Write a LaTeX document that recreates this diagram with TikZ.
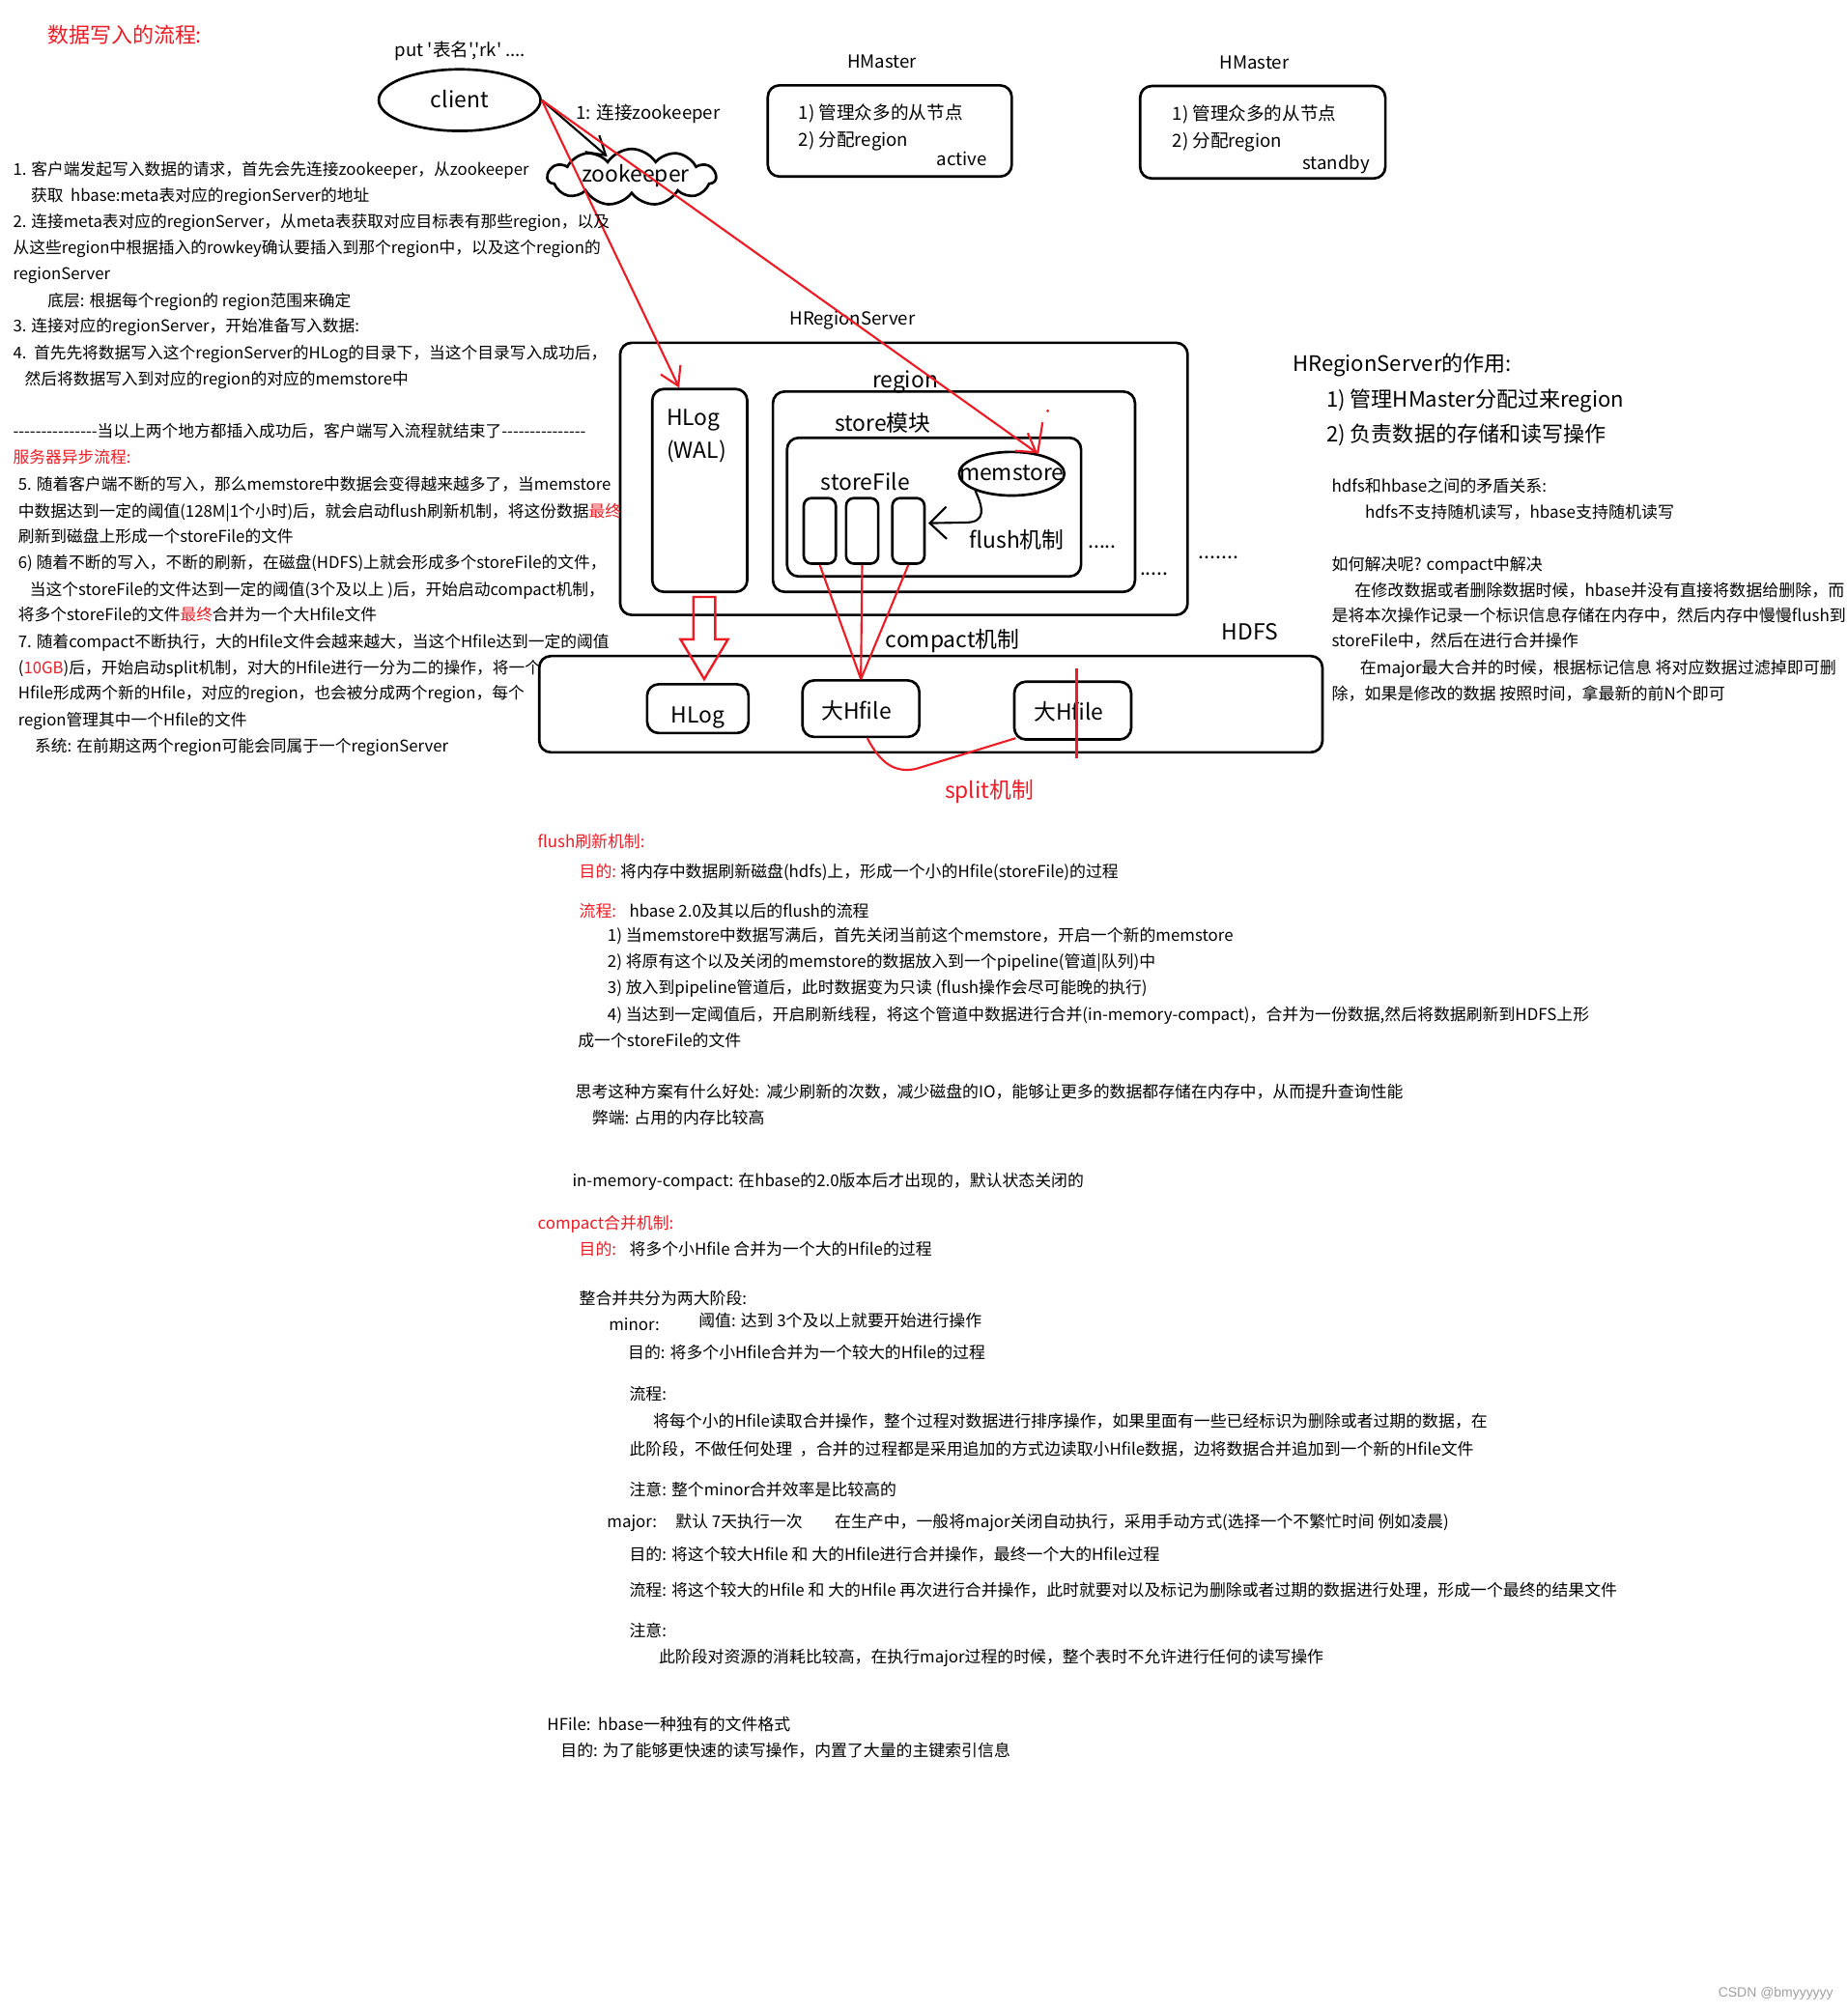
\documentclass[tikz,border=0pt]{standalone}
\usepackage{fontspec}
\newfontfamily\cjkmain{Noto Sans CJK SC}
\newfontfamily\markfont{Liberation Sans}
\usetikzlibrary{arrows.meta,shapes.geometric,shapes.symbols,calc}
\definecolor{pen}{RGB}{237,28,36}
\definecolor{markgray}{RGB}{160,160,160}

\tikzset{
  sized/.style={inner sep=0pt, font=\cjkmain\fontsize{#1}{#1}\selectfont,
    text height={0.86*#1pt}, text depth={0.14*#1pt}},
  txt/.style={sized=#1, anchor=west},
  txt/.default=12.7,
  lbl/.style={sized=#1},
  lbl/.default=17.2,
  box/.style={draw, line width=2pt, rounded corners=9pt, inner sep=0pt},
  smallbox/.style={draw, line width=2pt, rounded corners=6pt, inner sep=0pt,
    minimum width=25, minimum height=51},
  redline/.style={draw=pen, line width=1.6pt},
  barb/.style={-{Straight Barb[length=14pt,width=17pt]}},
  bigbarb/.style={-{Straight Barb[length=13pt,width=25pt]}},
}

\begin{document}
\cjkmain
\begin{tikzpicture}[x=1pt, y=-1pt]
    % page
    \path[use as bounding box, fill=white] (0,0) rectangle (1439,1568);

    % title
    \node[txt=16.5, text=pen] (title) at (37,27.5) {数据写入的流程:};
    \node[lbl=14] (put) at (358.5,39) {put '表名','rk' ....};

    % client and zookeeper
    \node[ellipse, draw, line width=2pt, minimum width=126, minimum height=48,
      inner sep=0pt, lbl] (client) at (358,78) {client};
    \node[cloud, draw, line width=2pt, cloud puffs=11, cloud puff arc=115,
      aspect=3, minimum width=131, minimum height=44, inner sep=0pt] (zk) at (492,138) {};
    \node[lbl] (zktext) at (495,136) {zookeeper};
    \node[txt=14] (zklabel) at (448.5,88) {1: 连接zookeeper};

    % HMaster, active
    \node[lbl=14] (hmlabel1) at (687,48) {HMaster};
    \node[box, minimum width=190, minimum height=71] (hmact) at (693,102) {};
    \node[txt=14] (hmact1) at (622,88) {1) 管理众多的从节点};
    \node[txt=14] (hmact2) at (622,109) {2) 分配region};
    \node[sized=14, anchor=east] (hmact3) at (769,124) {active};

    % HMaster, standby
    \node[lbl=14] (hmlabel2) at (977,49) {HMaster};
    \node[box, minimum width=191, minimum height=72] (hmsby) at (983.5,103) {};
    \node[txt=14] (hmsby1) at (913,89) {1) 管理众多的从节点};
    \node[txt=14] (hmsby2) at (913,110) {2) 分配region};
    \node[sized=14, anchor=east] (hmsby3) at (1067,127) {standby};

    % HRegionServer
    \node[lbl=14] (rslabel) at (664,248) {HRegionServer};
    \node[box, minimum width=442, minimum height=212] (rs) at (704,373) {};
    \node[box, minimum width=74, minimum height=158] (wal) at (545,382) {};
    \node[txt=17.2] (waltext1) at (519,325) {HLog};
    \node[txt=17.2] (waltext2) at (519,351) {(WAL)};
    \node[lbl] (reglabel) at (705,296) {region};
    \node[box, minimum width=282, minimum height=156] (reg) at (743,383) {};
    \node[lbl] (stlabel) at (687.5,330) {store模块};
    \node[box, minimum width=229, minimum height=108] (st) at (727.5,395) {};
    \node[lbl] (sflabel) at (674,376) {storeFile};
    \node[smallbox] (sf1) at (638.5,413.5) {};
    \node[smallbox] (sf2) at (671.5,413.5) {};
    \node[smallbox] (sf3) at (707.5,413.5) {};
    \node[ellipse, draw, line width=2pt, minimum width=82, minimum height=34,
      inner sep=0pt] (mem) at (788,369) {};
    \node[lbl] (memtext) at (788,368) {memstore};
    \node[lbl] (flushlabel) at (792,421) {flush机制};
    \node[sized=16, anchor=base] (dots1) at (858.5,427) {.....};
    \node[sized=16, anchor=base] (dots2) at (899,448) {.....};
    \node[sized=16, anchor=base] (dots3) at (949,435) {.......};

    % HDFS
    \node[lbl] (hdfslabel) at (973.5,492) {HDFS};
    \node[box, minimum width=610, minimum height=75] (hdfs) at (725,548.5) {};
    \node[box, minimum width=79, minimum height=38] (hlog) at (543.5,552) {};
    \node[lbl] (hlogtext) at (543.5,557) {HLog};
    \node[box, minimum width=91, minimum height=44] (hf1) at (670.5,552) {};
    \node[lbl] (hf1text) at (667,554) {大Hfile};
    \node[box, minimum width=91, minimum height=45] (hf2) at (835.5,553.5) {};
    \node[lbl] (hf2text) at (832.5,555) {大Hfile};
    \node[lbl] (compactlabel) at (742,498) {compact机制};
    \node[lbl, text=pen] (splitlabel) at (770.5,616) {split机制};

    % client writes
    \draw[line width=1.6pt, barb] (client.east) -- ($(zk.north)+(-19,7)$);
    \draw[redline, barb] (client.east) -- ($(wal.north)+(-16,0)$);
    \draw[redline, barb] (client.east) -- (mem.38);
    \draw[redline] (812,329) -- (mem.38);
    \fill[pen] (816,320) circle (1.2);

    % flush
    \draw[line width=1.6pt, bigbarb] (mem.205) .. controls (766,396) and (768,407)
      .. (752,407) -- ($(sf3.east)+(2,-6)$);

    % compact
    \draw[redline] (sf1.south) -- (hf1.north);
    \draw[redline] (sf2.south) -- (hf1.north);
    \draw[redline] (sf3.south) -- (hf1.north);

    % HLog to HDFS
    \begin{scope}[shift={(wal.south)}]
      \draw[redline, line width=1.8pt] (-5,3) -- (-5,36) -- (-15,36) -- (3.5,67)
        -- (22,36) -- (12,36) -- (12,3) -- cycle;
    \end{scope}

    % split
    \draw[redline] ($(hf1.south)+(5,0)$) .. controls (686,595) and (697,602)
      .. (713,599) -- ($(hf2.south west)+(2,-2)$);
    \draw[redline] ($(hf2.north)+(3,-9)$) -- ($(hf2.south)+(3,14)$);

    % left notes
    \foreach \y/\x/\t [count=\i] in {
      132/10/{1. 客户端发起写入数据的请求，首先会先连接zookeeper，从zookeeper},
      152/24/{获取\ \ hbase:meta表对应的regionServer的地址},
      173/10/{2. 连接meta表对应的regionServer，从meta表获取对应目标表有那些region，以及},
      193/10/{从这些region中根据插入的rowkey确认要插入到那个region中，以及这个region的},
      213/10/{regionServer},
      234/37/{底层: 根据每个region的 region范围来确定},
      254/10/{3. 连接对应的regionServer，开始准备写入数据:},
      275/10/{4.\ \ 首先先将数据写入这个regionServer的HLog的目录下，当这个目录写入成功后，},
      295/19/{然后将数据写入到对应的region的对应的memstore中},
      336/10/{---------------当以上两个地方都插入成功后，客户端写入流程就结束了---------------},
      356/10/{\textcolor{pen}{服务器异步流程:}},
      377/14/{5. 随着客户端不断的写入，那么memstore中数据会变得越来越多了，当memstore},
      398/14/{中数据达到一定的阈值(128M|1个小时)后，就会启动flush刷新机制，将这份数据\textcolor{pen}{最终}},
      418/14/{刷新到磁盘上形成一个storeFile的文件},
      438/14/{6) 随着不断的写入，不断的刷新，在磁盘(HDFS)上就会形成多个storeFile的文件，},
      459/23/{当这个storeFile的文件达到一定的阈值(3个及以上 )后，开始启动compact机制，},
      479/14/{将多个storeFile的文件\textcolor{pen}{最终}合并为一个大Hfile文件},
      500/14/{7. 随着compact不断执行，大的Hfile文件会越来越大，当这个Hfile达到一定的阈值},
      520/14/{(\textcolor{pen}{10GB})后，开始启动split机制，对大的Hfile进行一分为二的操作，将一个},
      540/14/{Hfile形成两个新的Hfile，对应的region，也会被分成两个region，每个},
      561/14/{region管理其中一个Hfile的文件},
      581/27/{系统: 在前期这两个region可能会同属于一个regionServer}}
      \node[txt=12.6] (ln\i) at (\x,\y) {\t};

    % right notes
    \node[txt=16.6] (rolehead) at (1007,283) {HRegionServer的作用:};
    \node[txt=16.6] (role1) at (1033,311) {1) 管理HMaster分配过来region};
    \node[txt=16.6] (role2) at (1033,338) {2) 负责数据的存储和读写操作};
    \foreach \y/\x/\t [count=\i] in {
      378.5/1037/{hdfs和hbase之间的矛盾关系:},
      399/1063/{hdfs不支持随机读写，hbase支持随机读写},
      439.5/1037/{如何解决呢? compact中解决},
      460/1055/{在修改数据或者删除数据时候，hbase并没有直接将数据给删除，而},
      479.5/1037/{是将本次操作记录一个标识信息存储在内存中，然后内存中慢慢flush到},
      499/1037/{storeFile中，然后在进行合并操作},
      520.5/1059/{在major最大合并的时候，根据标记信息 将对应数据过滤掉即可删},
      540.5/1037/{除，如果是修改的数据 按照时间，拿最新的前N个即可}}
      \node[txt=12.8] (rn\i) at (\x,\y) {\t};

    % flush and compact notes
    \node[txt, text=pen] (flushaim) at (451,679) {目的:};
    \node[txt, text=pen] (flushstep) at (451,709.5) {流程:};
    \node[txt, text=pen] (compactaim) at (451,973) {目的:};
    \foreach \y/\x/\t [count=\i] in {
      655.5/418.6/{\textcolor{pen}{flush刷新机制:}},
      679/483/{将内存中数据刷新磁盘(hdfs)上，形成一个小的Hfile(storeFile)的过程},
      709.5/490/{hbase 2.0及其以后的flush的流程},
      728.6/473/{1) 当memstore中数据写满后，首先关闭当前这个memstore，开启一个新的memstore},
      748.6/473/{2) 将原有这个以及关闭的memstore的数据放入到一个pipeline(管道|队列)中},
      769.5/473/{3) 放入到pipeline管道后，此时数据变为只读 (flush操作会尽可能晚的执行)},
      790/473/{4) 当达到一定阈值后，开启刷新线程，将这个管道中数据进行合并(in-memory-compact)，合并为一份数据,然后将数据刷新到HDFS上形},
      810.5/450/{成一个storeFile的文件},
      850.5/448/{思考这种方案有什么好处:\ \ 减少刷新的次数，减少磁盘的IO，能够让更多的数据都存储在内存中，从而提升查询性能},
      871/461/{弊端: 占用的内存比较高},
      919.5/445.6/{in-memory-compact: 在hbase的2.0版本后才出现的，默认状态关闭的},
      952.8/418.6/{\textcolor{pen}{compact合并机制:}},
      973/490/{将多个小Hfile 合并为一个大的Hfile的过程},
      1011.5/451/{整合并共分为两大阶段:},
      1031.6/474/{minor:},
      1028.6/544/{阈值: 达到 3个及以上就要开始进行操作},
      1054/489/{目的: 将多个小Hfile合并为一个较大的Hfile的过程},
      1086/490/{流程:},
      1107/508.5/{将每个小的Hfile读取合并操作，整个过程对数据进行排序操作，如果里面有一些已经标识为删除或者过期的数据，在},
      1129/490/{此阶段，不做任何处理\ \ ，合并的过程都是采用追加的方式边读取小Hfile数据，边将数据合并追加到一个新的Hfile文件},
      1160.5/490/{注意: 整个minor合并效率是比较高的},
      1185.4/472.6/{major:},
      1185/526/{默认 7天执行一次},
      1185/650/{在生产中，一般将major关闭自动执行，采用手动方式(选择一个不繁忙时间 例如凌晨)},
      1211/490/{目的: 将这个较大Hfile 和 大的Hfile进行合并操作，最终一个大的Hfile过程},
      1239/490/{流程: 将这个较大的Hfile 和 大的Hfile 再次进行合并操作，此时就要对以及标记为删除或者过期的数据进行处理，形成一个最终的结果文件},
      1270/490/{注意:},
      1290.8/513/{此阶段对资源的消耗比较高，在执行major过程的时候，整个表时不允许进行任何的读写操作},
      1343.4/426/{HFile:\ \ hbase一种独有的文件格式},
      1363.5/436.5/{目的: 为了能够更快速的读写操作，内置了大量的主键索引信息}}
      \node[txt] (bn\i) at (\x,\y) {\t};

    % watermark
    \node[anchor=east, inner sep=0pt, text=markgray,
      font=\markfont\fontsize{10.5}{10.5}\selectfont] (mark) at (1428,1553) {CSDN @bmyyyyyy};
\end{tikzpicture}
\end{document}
